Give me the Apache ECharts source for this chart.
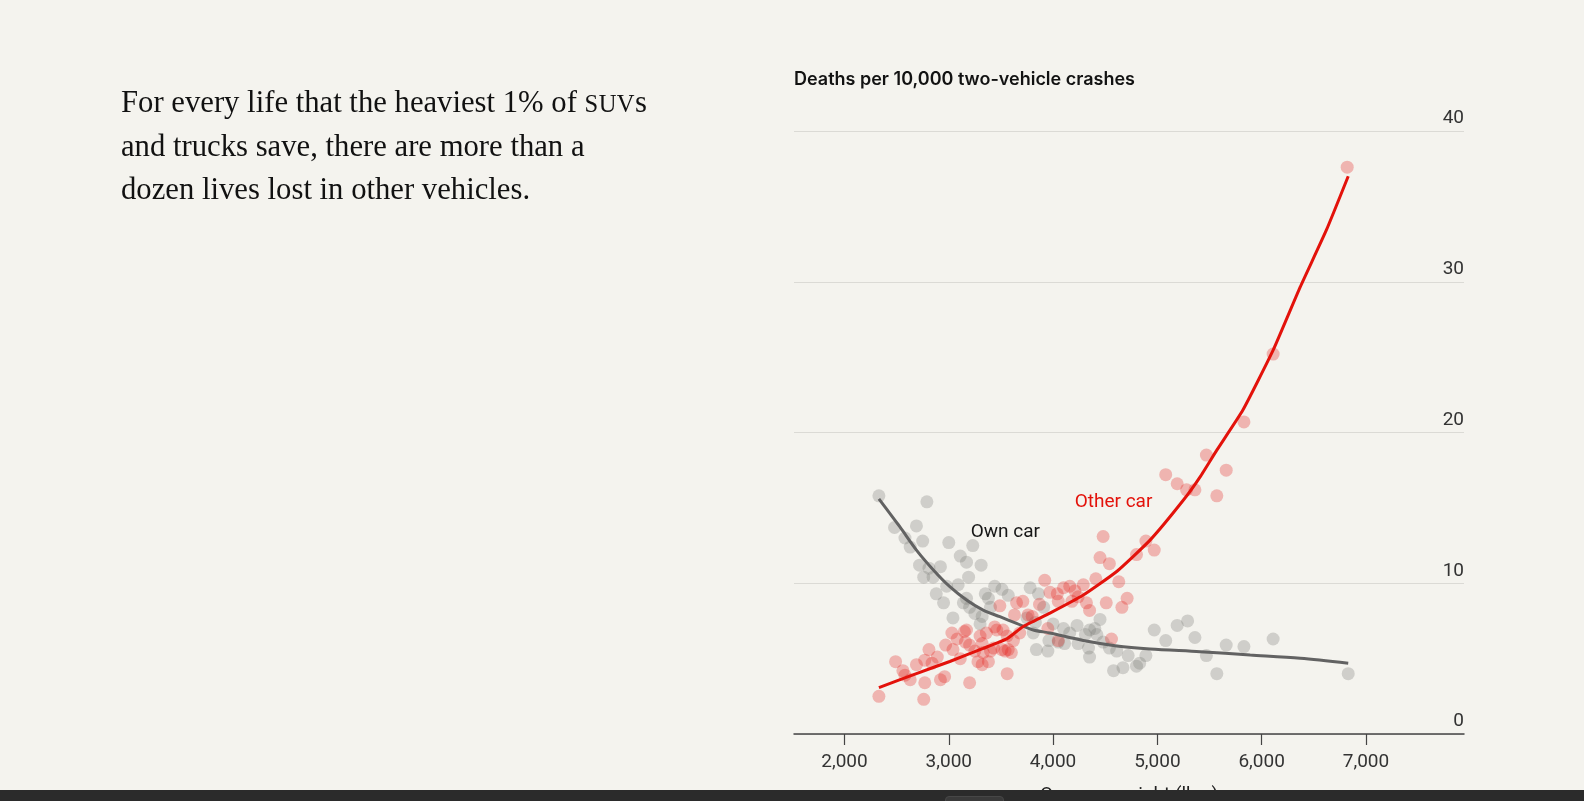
<!DOCTYPE html>
<html>
<head>
<meta charset="utf-8">
<script src="https://cdn.jsdelivr.net/npm/echarts@6/dist/echarts.min.js"></script>
<style>
  html, body { margin:0; padding:0; background:#f4f3ee; }
  #wrap { position:relative; width:1584px; height:801px; overflow:hidden; background:#f4f3ee; }
  #chart { position:absolute; left:0; top:0; width:1584px; height:801px; }
  #lede { position:absolute; left:121px; top:81px; width:640px; font-family:"Liberation Serif","DejaVu Serif",serif;
          font-size:30.7px; line-height:42.4px; color:#111; }
  .sc { font-size:0.8em; letter-spacing:0.4px; }
  #bar { position:absolute; left:0; top:790px; width:1584px; height:11px; background:#2b2b2b; }
  #barbtn { position:absolute; left:945px; top:796px; width:57px; height:10px; background:#3a3a3a; border-radius:4px; border:1px solid #474747; }
</style>
</head>
<body>
<div id="wrap">
  <div id="chart"></div>
  <div id="lede">For every life that the heaviest 1% of <span class="sc">SUV</span>s<br>and trucks save, there are more than a<br>dozen lives lost in other vehicles.</div>
  <div id="bar"></div>
  <div id="barbtn"></div>
</div>
<script>
// ---- Data ----
const chartTitle = "Deaths per 10,000 two-vehicle crashes";
const xAxisName = "Own car weight (lbs.)";
const xTickValues = [2000, 3000, 4000, 5000, 6000, 7000];
const yTickValues = [0, 10, 20, 30, 40];

// Own car deaths (gray dots)
const ownWeights = [2330,2790,2480,2690,2580,2630,2750,3000,3230,3110,3170,3310,2720,2810,2920,2760,2850,3190,2980,2880,
  3090,3350,3440,3510,3570,2950,3140,3200,3380,3400,3040,3250,3320,3300,3780,3860,3910,3750,3830,4000,
  4100,4160,3960,4050,4230,4310,4350,3840,3950,4350,4420,4480,4540,4610,4720,4830,4580,4670,4800,4890,
  4970,5080,5190,5290,5360,5470,5570,5660,5830,6110,6830,3810,4450,4400,4110,4240,4340,3170];
const ownDeaths = [15.8,15.4,13.7,13.8,13.0,12.4,12.8,12.7,12.5,11.8,11.4,11.2,11.2,11.0,11.1,10.4,10.4,10.4,9.8,9.3,
  9.9,9.3,9.8,9.6,9.2,8.7,8.7,8.4,9.0,8.4,7.7,8.0,7.8,7.3,9.7,9.3,8.4,7.7,7.4,7.3,
  7.0,6.7,6.2,6.1,7.2,6.6,6.9,5.6,5.5,5.1,6.6,6.1,5.7,5.5,5.2,4.7,4.2,4.4,4.5,5.2,
  6.9,6.2,7.2,7.5,6.4,5.2,4.0,5.9,5.8,6.3,4.0,6.7,7.6,7.0,6.0,6.0,5.7,9.0];

// Other car deaths (red dots)
const otherWeights = [2330,2490,2580,2630,2690,2760,2770,2810,2840,2890,2920,2960,2970,3030,3080,3110,3150,3200,3200,3250,
  3280,3300,3320,3380,3360,3430,3460,3490,3510,3560,3540,3570,3600,3680,3710,3630,3760,3170,3320,3400,
  3330,3160,3040,2770,2560,3440,3520,3560,3620,3650,3800,3870,3920,4100,4160,3970,4040,4410,4290,4210,
  4630,4710,4660,4510,4320,4350,4050,4560,4050,3950,4240,4180,4480,4450,4540,4800,4890,4970,5080,5190,
  5280,5360,5470,5570,5660,5830,6110,6820];
const otherDeaths = [2.5,4.8,3.9,3.6,4.6,2.3,3.4,5.6,4.7,5.1,3.6,3.8,5.9,6.7,6.3,5.0,6.8,3.4,5.9,5.5,
  4.8,6.5,4.6,4.8,6.7,5.7,6.9,8.5,5.6,4.0,5.5,5.6,5.4,6.7,8.8,7.9,7.9,6.9,6.0,5.5,
  5.4,6.1,5.6,4.9,4.2,7.1,6.9,6.5,6.2,8.7,7.8,8.6,10.2,9.7,9.8,9.4,9.3,10.3,9.9,9.5,
  10.1,9.0,8.4,8.7,8.7,8.2,8.8,6.3,6.2,7.0,9.1,8.8,13.1,11.7,11.3,11.9,12.8,12.2,17.2,16.6,
  16.2,16.2,18.5,15.8,17.5,20.7,25.2,37.6];

// Fitted trend lines
const ownFitWeights = [2330,2530,2690,2850,3010,3170,3330,3490,3650,3810,3970,4290,4610,4930,5410,5890,6370,6830];
const ownFitDeaths  = [15.6,13.75,12.2,10.9,9.77,8.89,8.22,7.78,7.34,6.9,6.7,6.2,5.84,5.64,5.46,5.24,5.02,4.69];
const otherFitWeights = [2330,2690,3010,3330,3560,3710,3970,4290,4610,4930,5250,5410,5570,5820,6110,6370,6620,6830];
const otherFitDeaths  = [3.08,4.01,4.81,5.68,6.33,7.12,8.02,9.22,10.78,12.86,15.52,17.06,18.83,21.49,25.46,29.66,33.42,37.0];

// Series labels
const ownLabel = "Own car";
const otherLabel = "Other car";

// ---- Build ----
const zip = (a, b) => a.map((v, i) => [v, b[i]]);
const FONT = "Roboto, 'Noto Sans', sans-serif";
const RED = "#e3120b";

const chart = echarts.init(document.getElementById('chart'), null, { renderer: 'canvas' });
const option = {
  backgroundColor: 'transparent',
  animation: false,
  title: {
    text: chartTitle, left: 794, top: 71, padding: 0,
    textStyle: { fontFamily: "Inter, Roboto, sans-serif", fontSize: 18, fontWeight: 600, color: '#121212' }
  },
  grid: { left: 794, right: 120, top: 131, bottom: 67, containLabel: false, outerBoundsMode: 'none' },
  xAxis: {
    type: 'value', min: 1516, max: 7940,
    name: xAxisName, nameLocation: 'middle', nameGap: 52,
    nameTextStyle: { fontFamily: FONT, fontSize: 19, color: '#222' },
    axisLine: { show: true, lineStyle: { color: '#444', width: 1.5 } },
    axisTick: { show: true, length: 11, lineStyle: { color: '#444', width: 1.2 }, customValues: xTickValues },
    axisLabel: {
      customValues: xTickValues, margin: 19, fontFamily: FONT, fontSize: 19, color: '#333',
      formatter: v => v.toLocaleString('en-US')
    },
    splitLine: { show: false }
  },
  yAxis: {
    type: 'value', position: 'right', min: 0, max: 40, interval: 10,
    axisLine: { show: false }, axisTick: { show: false },
    axisLabel: {
      inside: true, margin: 0, fontFamily: FONT, fontSize: 19, color: '#333',
      align: 'right', verticalAlign: 'bottom', padding: [0, 0, 3, 0],
      customValues: yTickValues
    },
    splitLine: { show: true, lineStyle: { color: '#dbdad5', width: 1.2 } }
  },
  series: [
    { type: 'scatter', name: ownLabel, data: zip(ownWeights, ownDeaths), symbolSize: 13,
      itemStyle: { color: 'rgba(118,118,112,0.36)' }, z: 2 },
    { type: 'scatter', name: otherLabel, data: zip(otherWeights, otherDeaths), symbolSize: 13,
      itemStyle: { color: 'rgba(228,28,24,0.36)' }, z: 3 },
    { type: 'line', data: zip(ownFitWeights, ownFitDeaths), showSymbol: false, smooth: 0.3,
      lineStyle: { color: '#626262', width: 3 }, z: 4 },
    { type: 'line', data: zip(otherFitWeights, otherFitDeaths), showSymbol: false, smooth: 0.15,
      lineStyle: { color: RED, width: 3 }, z: 5 }
  ]
};
chart.setOption(option);

const ownPos = chart.convertToPixel({ gridIndex: 0 }, [3210, 13.36]);
const otherPos = chart.convertToPixel({ gridIndex: 0 }, [4207, 15.38]);
chart.setOption({
  graphic: [
    { type: 'text', x: ownPos[0], y: ownPos[1], z: 10,
      style: { text: ownLabel, fill: '#161616', font: "19px " + FONT, textVerticalAlign: 'middle', verticalAlign: 'middle' } },
    { type: 'text', x: otherPos[0], y: otherPos[1], z: 10,
      style: { text: otherLabel, fill: RED, font: "19px " + FONT, textVerticalAlign: 'middle', verticalAlign: 'middle' } }
  ]
});
</script>
</body>
</html>
